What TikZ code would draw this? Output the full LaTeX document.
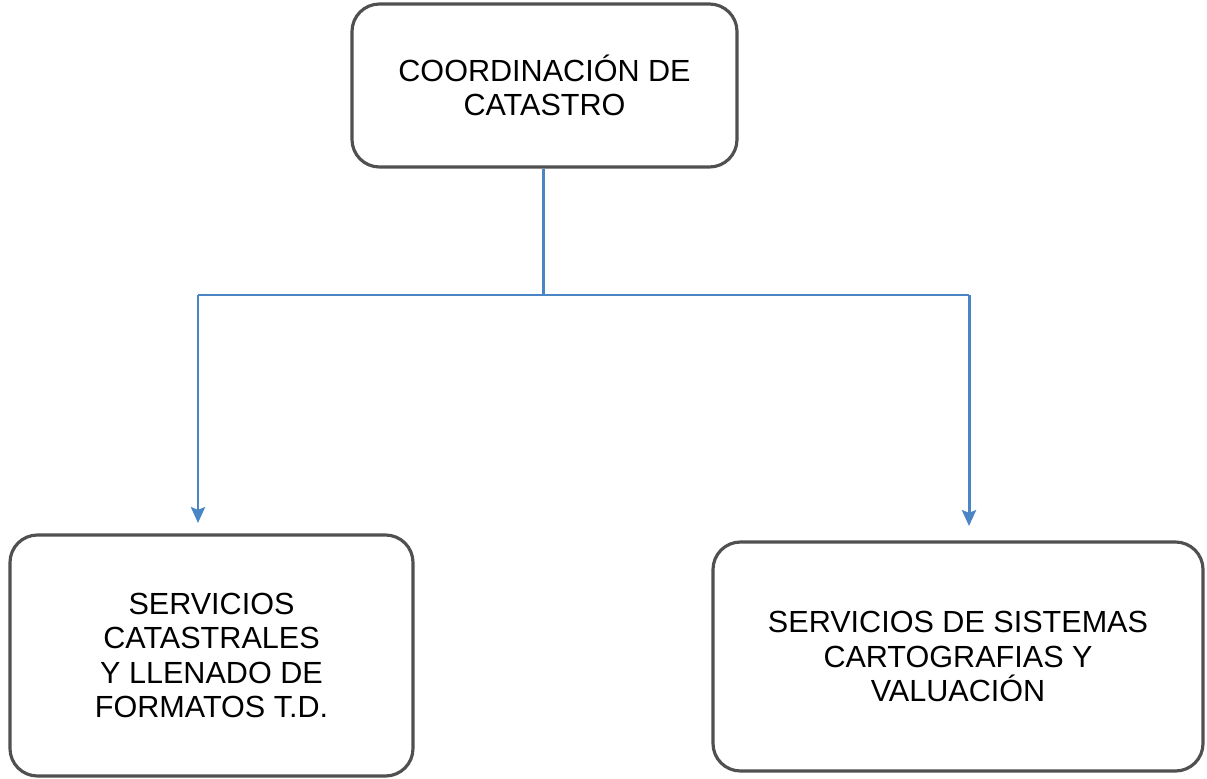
\documentclass[tikz,border=0pt]{standalone}
\usepackage{fontspec}
\setmainfont{Liberation Sans}
\usetikzlibrary{arrows.meta}
\definecolor{boxgray}{HTML}{505050}
\definecolor{linkblue}{HTML}{4A86C5}
\begin{document}
\begin{tikzpicture}[>={Stealth[length=9pt,width=8pt,inset=1.5pt]},
  unidad/.style={draw=boxgray, line width=1.8pt, rounded corners=0.55cm, align=center, font=\fontsize{17.4}{19.6}\selectfont},
  enlace/.style={draw=linkblue, line width=1.7pt}]
\useasboundingbox (0,0) rectangle (24.14,-15.56);
\node[unidad, minimum width=7.7cm, minimum height=3.26cm](coord) at (10.89,-1.71){COORDINACIÓN DE\\CATASTRO};
\node[unidad, minimum width=8.06cm, minimum height=4.82cm](servcat) at (4.23,-13.11){SERVICIOS\\CATASTRALES\\Y LLENADO DE\\FORMATOS T.D.};
\node[unidad, minimum width=9.8cm, minimum height=4.58cm](servsis) at (19.16,-13.13){SERVICIOS DE SISTEMAS\\CARTOGRAFIAS Y\\VALUACIÓN};
\coordinate (bus) at (10.87,-5.9);
\coordinate (busL) at (3.96,-5.9);
\coordinate (busR) at (19.38,-5.9);
\coordinate (tipL) at (3.96,-10.46);
\coordinate (tipR) at (19.38,-10.52);
\draw[enlace](coord.south -| bus)--(bus);
\draw[enlace](busL)--(busR);
\draw[enlace,->](busL)--(tipL);
\draw[enlace,->](busR)--(tipR);
\end{tikzpicture}
\end{document}
